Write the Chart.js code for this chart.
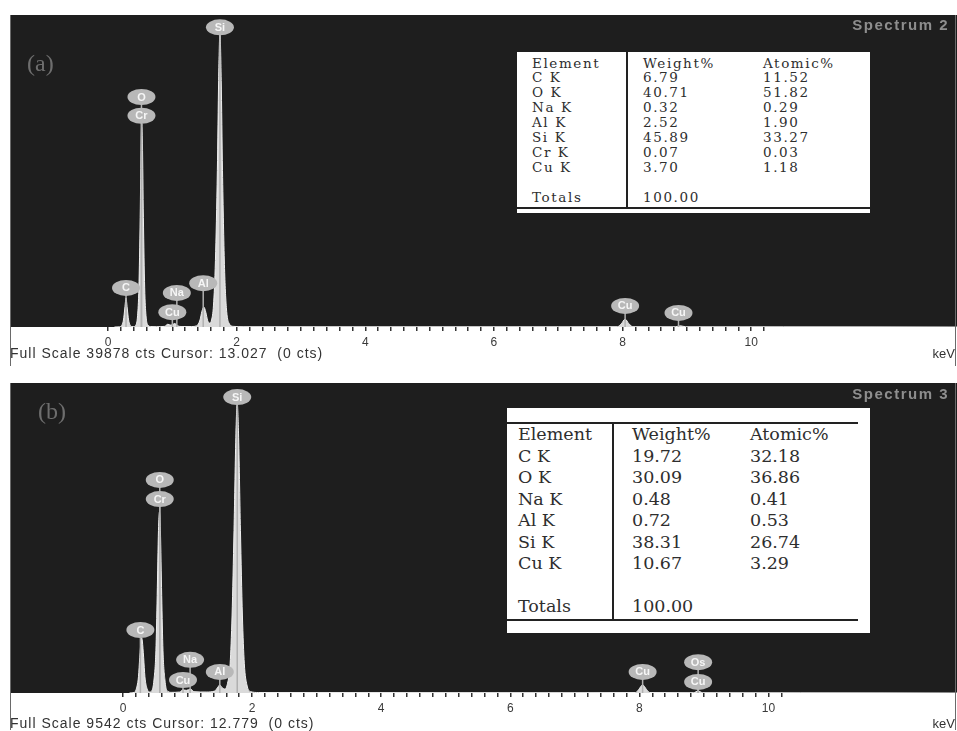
<!DOCTYPE html>
<html>
<head>
<meta charset="utf-8">
<script src="https://cdn.jsdelivr.net/npm/chart.js@4/dist/chart.umd.min.js"></script>
<style>
  html, body { margin:0; padding:0; background:#fff; width:957px; height:731px; overflow:hidden; }
  canvas { position:absolute; left:0; }
  .txt { position:absolute; white-space:pre; font-family:'Liberation Sans', Arial, sans-serif; }
  .tbl { position:absolute; background:#fff; }
  .cell { position:absolute; white-space:nowrap; color:#2e2e2e; }
  .rule { position:absolute; background:#222; }
</style>
</head>
<body>
<canvas id="cA" width="957" height="367" style="top:0px"></canvas>
<canvas id="cB" width="957" height="363" style="top:368px"></canvas>
<div id="overlay"></div>
<script>
// ---------------- DATA ----------------
// Panel (a) spectrum: energy (keV) and counts
const specA_keV = [0.10,0.18,0.22,0.24,0.26,0.275,0.28,0.285,0.30,0.32,0.34,0.37,0.40,0.43,0.46,0.48,0.50,0.515,0.525,0.535,0.55,0.57,0.59,0.62,0.66,0.75,0.88,0.93,0.97,1.00,1.04,1.08,1.15,1.30,1.38,1.43,1.46,1.49,1.52,1.55,1.58,1.61,1.64,1.67,1.70,1.72,1.74,1.76,1.78,1.81,1.84,1.88,1.95,2.10,4.00,7.00,7.92,7.98,8.04,8.10,8.16,8.82,8.90,8.98,10.5,13.2];
const specA_cts = [0,20,300,900,2300,3500,3700,3500,2300,900,300,60,40,200,1500,5000,14000,23500,26000,23500,14000,5000,1500,250,60,40,80,350,250,300,450,150,60,60,150,900,2000,2550,1900,800,500,900,2800,8500,20000,31500,37600,31500,20000,8000,2500,500,80,40,30,30,40,400,1000,400,40,30,150,30,20,0];
const fullScaleA = 39878;

// Panel (b) spectrum
const specB_keV = [0.10,0.18,0.21,0.24,0.26,0.28,0.29,0.30,0.32,0.34,0.37,0.41,0.45,0.48,0.51,0.53,0.55,0.565,0.58,0.60,0.62,0.65,0.68,0.75,0.88,0.93,0.98,1.05,1.10,1.30,1.42,1.47,1.50,1.53,1.58,1.62,1.66,1.69,1.72,1.75,1.77,1.79,1.82,1.85,1.88,1.92,1.98,2.10,7.00,7.94,7.99,8.05,8.11,8.16,8.84,8.91,8.98,10.5,12.92];
const specB_cts = [0,20,150,500,1100,1600,1700,1600,1100,500,150,30,80,400,1300,3000,5000,5570,5000,3000,1300,400,80,20,30,100,80,120,40,30,60,180,250,180,120,300,900,2400,5000,8000,8920,8000,5000,2400,900,250,40,15,10,15,110,250,110,15,10,60,10,5,0];
const fullScaleB = 9542;

// Peak labels
const labA_name = ['Si','O','Cr','C','Na','Cu','Al','Cu','Cu'];
const labA_keV  = [1.74,0.52,0.52,0.28,1.07,1.00,1.48,8.04,8.87];
const labA_cts  = [38300,29400,27000,5000,4350,1900,5600,2700,1800];

const labB_name = ['Si','O','Cr','C','Na','Cu','Al','Cu','Os','Cu'];
const labB_keV  = [1.77,0.57,0.57,0.27,1.04,0.93,1.50,8.05,8.91,8.91];
const labB_cts  = [9110,6560,5970,1940,1020,400,650,650,950,340];

// Axis ticks
const majorTicks = [0,2,4,6,8,10];
const minorStep = 0.2;
const tickEnd = 10.2;

// Tables
const tabHeader = ['Element','Weight%','Atomic%'];
const tabA_el = ['C K','O K','Na K','Al K','Si K','Cr K','Cu K'];
const tabA_wt = ['6.79','40.71','0.32','2.52','45.89','0.07','3.70'];
const tabA_at = ['11.52','51.82','0.29','1.90','33.27','0.03','1.18'];
const tabB_el = ['C K','O K','Na K','Al K','Si K','Cu K'];
const tabB_wt = ['19.72','30.09','0.48','0.72','38.31','10.67'];
const tabB_at = ['32.18','36.86','0.41','0.53','26.74','3.29'];
const totalsLabel = 'Totals';
const totalsValue = '100.00';

// --------------- CHARTS ---------------
const tickValues = [];
for (let v = 0; v <= tickEnd + 1e-9; v += minorStep) tickValues.push(Math.round(v*10)/10);

const panelPlugin = {
  id: 'panel',
  beforeDraw(chart) {
    const {ctx, chartArea:a} = chart;
    ctx.save();
    ctx.fillStyle = '#1e1e1e';
    ctx.fillRect(a.left, a.top, a.right - a.left, a.bottom - a.top);
    ctx.restore();
  },
  afterDatasetsDraw(chart, args, opts) {
    const {ctx} = chart;
    const xs = chart.scales.x, ys = chart.scales.y;
    const names = opts.names, kev = opts.kev, cts = opts.cts;
    ctx.save();
    ctx.strokeStyle = '#b0b0b0';
    ctx.lineWidth = 1.5;
    for (let i = 0; i < names.length; i++) {
      const x = xs.getPixelForValue(kev[i]);
      const y = ys.getPixelForValue(cts[i]);
      ctx.beginPath();
      ctx.moveTo(x, y);
      ctx.lineTo(x, ys.getPixelForValue(0));
      ctx.stroke();
    }
    for (let i = 0; i < names.length; i++) {
      const x = xs.getPixelForValue(kev[i]);
      const y = ys.getPixelForValue(cts[i]);
      ctx.beginPath();
      ctx.ellipse(x, y, 14, 8, 0, 0, Math.PI*2);
      ctx.fillStyle = '#b8b8b8';
      ctx.fill();
      ctx.fillStyle = '#f6f6f6';
      ctx.font = 'bold 11px "Liberation Sans", Arial, sans-serif';
      ctx.textAlign = 'center';
      ctx.textBaseline = 'middle';
      ctx.fillText(names[i], x, y + 0.5);
    }
    ctx.restore();
  },
  afterDraw(chart) {
    const {ctx, chartArea:a} = chart;
    ctx.save();
    ctx.strokeStyle = '#6a6a6a';
    ctx.lineWidth = 1;
    ctx.beginPath();
    ctx.moveTo(a.left + 0.5, a.top);
    ctx.lineTo(a.left + 0.5, chart.height - 1);
    ctx.moveTo(955.5, a.top);
    ctx.lineTo(955.5, chart.height - 1);
    ctx.stroke();
    ctx.restore();
  }
};

function makeChart(id, kev, cts, full, xmin, xmax, axisH, names, lk, lc) {
  return new Chart(document.getElementById(id), {
    type: 'line',
    data: { datasets: [{
      data: kev.map((x, i) => ({x: x, y: cts[i]})),
      fill: 'origin',
      backgroundColor: '#dadada',
      borderColor: '#efefef',
      borderWidth: 1,
      pointRadius: 0,
      cubicInterpolationMode: 'monotone'
    }]},
    options: {
      responsive: false,
      animation: false,
      devicePixelRatio: 1,
      layout: { padding: { top: 15, left: 10, right: 0, bottom: 0 } },
      plugins: {
        legend: { display: false },
        tooltip: { enabled: false },
        panel: { names: names, kev: lk, cts: lc }
      },
      scales: {
        x: {
          type: 'linear', min: xmin, max: xmax,
          afterBuildTicks(scale) { scale.ticks = tickValues.map(v => ({value: v})); },
          afterFit(scale) { scale.height = axisH; },
          ticks: {
            autoSkip: false, maxRotation: 0, padding: 4,
            color: '#3a3a3a',
            font: { family: '"Liberation Sans", Arial, sans-serif', size: 12 },
            callback: (v) => majorTicks.some(m => Math.abs(m - v) < 1e-6) ? String(Math.round(v)) : ''
          },
          grid: { display: true, drawOnChartArea: false, drawTicks: true, tickLength: 4, color: '#333', lineWidth: 1.5 },
          border: { display: false }
        },
        y: { display: false, min: 0, max: full }
      }
    },
    plugins: [panelPlugin]
  });
}

makeChart('cA', specA_keV, specA_cts, fullScaleA, -1.524, 13.2, 40, labA_name, labA_keV, labA_cts);
makeChart('cB', specB_keV, specB_cts, fullScaleB, -1.75, 12.92, 38, labB_name, labB_keV, labB_cts);

// --------------- TEXT OVERLAYS ---------------
const ov = document.getElementById('overlay');
function addText(txt, css) {
  const d = document.createElement('div');
  d.className = 'txt';
  d.textContent = txt;
  Object.assign(d.style, css);
  ov.appendChild(d);
  return d;
}
addText('Full Scale ' + fullScaleA + ' cts Cursor: 13.027  (0 cts)', {left:'10px', top:'345px', fontSize:'14px', letterSpacing:'1px', color:'#333'});
addText('keV', {right:'2px', top:'346px', fontSize:'13px', color:'#333'});
addText('Full Scale ' + fullScaleB + ' cts Cursor: 12.779  (0 cts)', {left:'10px', top:'715px', fontSize:'14px', letterSpacing:'1px', color:'#333'});
addText('keV', {right:'2px', top:'716px', fontSize:'13px', color:'#333'});
addText('Spectrum 2', {right:'8px', top:'16px', fontSize:'15px', letterSpacing:'1.5px', fontWeight:'bold', color:'#8e8e8e'});
addText('Spectrum 3', {right:'8px', top:'385px', fontSize:'15px', letterSpacing:'1.5px', fontWeight:'bold', color:'#8e8e8e'});
addText('(a)', {left:'27px', top:'50px', fontSize:'24px', color:'#6e6e6e', fontFamily:'"Liberation Serif", serif'});
addText('(b)', {left:'38px', top:'398px', fontSize:'24px', color:'#6e6e6e', fontFamily:'"Liberation Serif", serif'});

function addRule(l, t, w, h) {
  const d = document.createElement('div');
  d.className = 'rule';
  Object.assign(d.style, {left:l+'px', top:t+'px', width:w+'px', height:h+'px'});
  ov.appendChild(d);
}
function buildTable(box, cols, rowTop, step, font, ls, el, wt, at) {
  const b = document.createElement('div');
  b.className = 'tbl';
  Object.assign(b.style, {left:box[0]+'px', top:box[1]+'px', width:box[2]+'px', height:box[3]+'px'});
  ov.appendChild(b);
  const rows = [tabHeader];
  for (let i = 0; i < el.length; i++) rows.push([el[i], wt[i], at[i]]);
  rows.push(['', '', '']);
  rows.push([totalsLabel, totalsValue, '']);
  rows.forEach((r, ri) => {
    r.forEach((c, ci) => {
      const d = document.createElement('div');
      d.className = 'cell';
      d.textContent = c;
      Object.assign(d.style, {
        left: cols[ci] + 'px', top: (rowTop + ri*step - step/2) + 'px',
        height: step + 'px', lineHeight: step + 'px',
        fontFamily: '"DejaVu Serif", serif', fontSize: font + 'px', letterSpacing: ls + 'px'
      });
      ov.appendChild(d);
    });
  });
}
// Table (a)
buildTable([517, 52, 353, 161], [532, 643, 763], 63, 14.9, 13.5, 1.6, tabA_el, tabA_wt, tabA_at);
addRule(626, 52, 2, 156);
addRule(517, 207, 353, 2);
// Table (b)
buildTable([507, 408, 363, 225], [518, 632, 750], 435, 21.5, 17.5, 0, tabB_el, tabB_wt, tabB_at);
addRule(507, 422, 351, 2);
addRule(507, 619, 351, 2);
addRule(612, 422, 2, 198);
</script>
</body>
</html>
